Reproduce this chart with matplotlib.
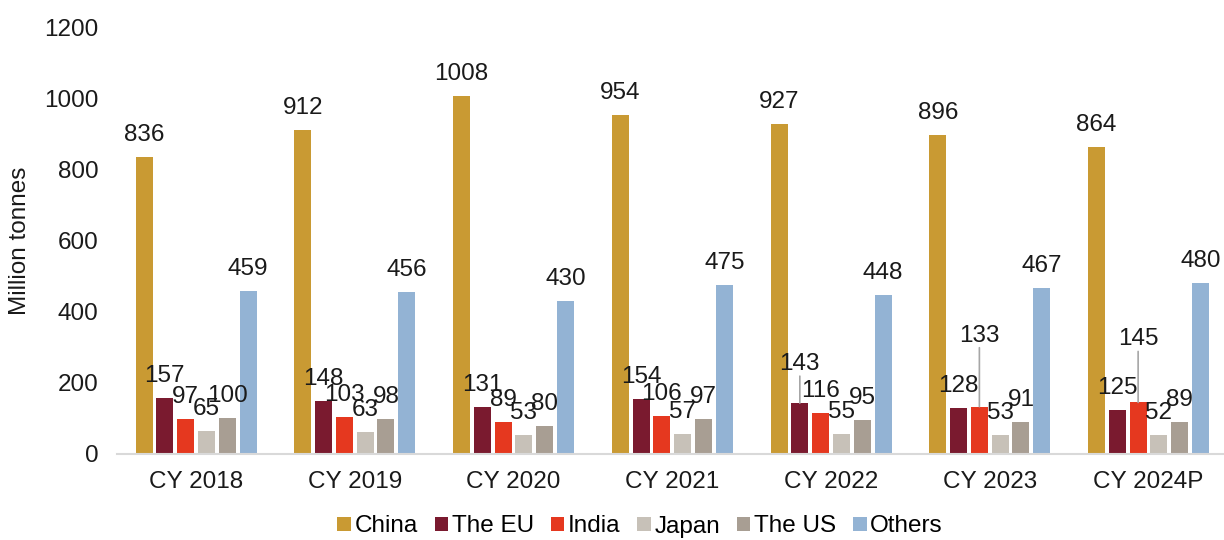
import matplotlib
matplotlib.use("Agg")
import matplotlib.pyplot as plt
import numpy as np

# Crude steel production by region, million tonnes
years = ["CY 2018", "CY 2019", "CY 2020", "CY 2021", "CY 2022", "CY 2023", "CY 2024P"]
china = [836, 912, 1008, 954, 927, 896, 864]
the_eu = [157, 148, 131, 154, 143, 128, 125]
india = [97, 103, 89, 106, 116, 133, 145]
japan = [65, 63, 53, 57, 55, 53, 52]
the_us = [100, 98, 80, 97, 95, 91, 89]
others = [459, 456, 430, 475, 448, 467, 480]

series_names = ["China", "The EU", "India", "Japan", "The US", "Others"]
series_values = [china, the_eu, india, japan, the_us, others]
colors = ["#C99A33", "#7A1A2F", "#E5381F", "#C7C1B8", "#A89E93", "#93B3D4"]

plt.rcParams["font.family"] = ["Liberation Sans", "DejaVu Sans"]
FS = 17.5

fig = plt.figure(figsize=(12.24, 5.40), dpi=100)
ax = fig.add_axes([0.0953, 0.1593, 0.904, 0.790])

x = np.arange(len(years))
step = 0.131
width = 0.107
n = len(series_names)

# labels lifted higher with a leader line (offset in pixels above bar top)
raised = {(4, 1): 33, (5, 2): 65, (6, 2): 57}
px = 72.0 / fig.dpi

for k, (name, vals, col) in enumerate(zip(series_names, series_values, colors)):
    pos = x + (k - (n - 1) / 2) * step
    ax.bar(pos, vals, width=width, color=col, label=name, zorder=2)
    for i, (p, v) in enumerate(zip(pos, vals)):
        off = raised.get((i, k), 16)
        ax.annotate(str(v), xy=(p, v), xytext=(0, off * px),
                    textcoords="offset points", ha="center", va="baseline",
                    fontsize=FS, color="#1a1a1a", zorder=4)
        if (i, k) in raised:
            ax.annotate("", xy=(p, v), xytext=(0, (off - 6) * px),
                        textcoords="offset points",
                        arrowprops=dict(arrowstyle="-", color="#A6A6A6", lw=1.2,
                                        shrinkA=0, shrinkB=0), zorder=3)

ax.set_xlim(-0.5, 6.47)
ax.set_ylim(0, 1200)
ax.set_yticks(np.arange(0, 1201, 200))
ax.set_xticks(x)
ax.set_xticklabels(years)
ax.tick_params(axis="x", length=0, pad=12, labelsize=FS, colors="#1a1a1a")
ax.tick_params(axis="y", length=0, pad=13, labelsize=FS, colors="#1a1a1a")
for s in ["top", "right", "left"]:
    ax.spines[s].set_visible(False)
ax.spines["bottom"].set_color("#D9D9D9")
ax.spines["bottom"].set_linewidth(1.5)
ax.set_ylabel("Million tonnes", fontsize=FS, color="#1a1a1a")
ax.yaxis.set_label_coords(-0.077, 0.5)

fig.legend(loc="center", bbox_to_anchor=(0.523, 0.025), ncol=6, frameon=False,
           fontsize=FS, handlelength=0.55, handleheight=0.55, handletextpad=0.15,
           columnspacing=0.7, borderaxespad=0)

fig.savefig("out.png", dpi=100)
